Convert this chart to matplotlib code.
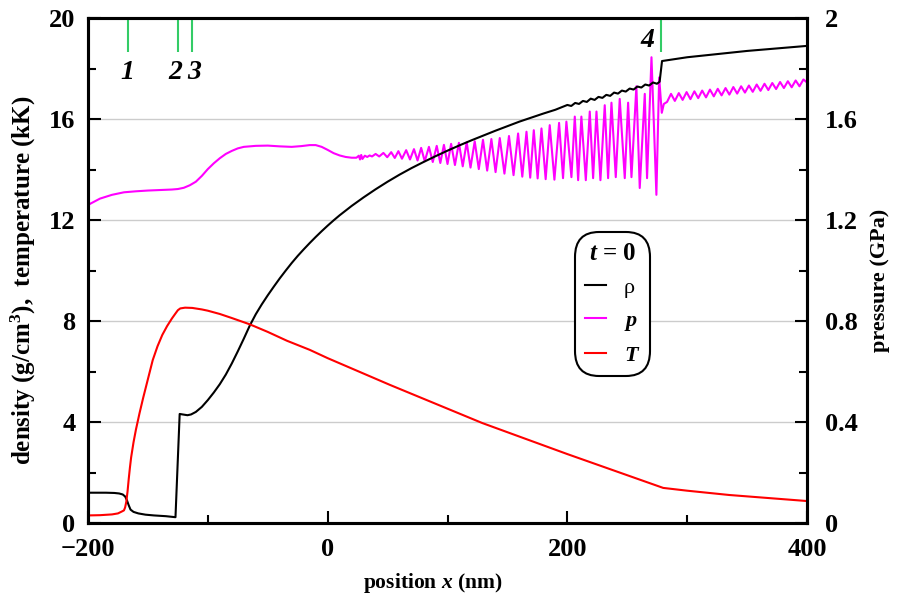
import numpy as np
import matplotlib.pyplot as plt

plt.rcParams['font.family'] = ['Liberation Serif', 'DejaVu Serif']
plt.rcParams['font.weight'] = 'bold'
plt.rcParams['axes.labelweight'] = 'bold'
plt.rcParams['mathtext.fontset'] = 'custom'
plt.rcParams['mathtext.rm'] = 'Liberation Serif:bold'
plt.rcParams['mathtext.it'] = 'Liberation Serif:italic:bold'
plt.rcParams['mathtext.bf'] = 'Liberation Serif:bold'

# density rho (g/cm3)
rho_x = [-200, -185, -178, -174, -171, -169, -167.5, -166, -164.5, -162, -158, -152,
         -145, -135, -127, -123.5, -121, -117, -114, -110, -105, -100, -95, -90, -85,
         -80, -75, -70, -65, -60, -55, -50, -45, -40, -35, -30, -25, -20, -15, -10, -5,
         0, 5, 10, 20, 30, 40, 50, 60, 70, 80, 90, 100, 110, 120, 130, 140, 150, 160,
         170, 180, 190,
         200, 203.25, 206.5, 209.75, 213, 216.25, 219.5, 222.75, 226, 229.25, 232.5,
         235.75, 239, 242.25, 245.5, 248.75, 252, 255.25, 258.5, 261.75, 265, 268.25,
         271.5, 274.75, 277, 279, 300, 350, 400]
rho = [1.20, 1.20, 1.19, 1.17, 1.13, 1.05, 0.90, 0.70, 0.53, 0.44, 0.38, 0.33,
       0.30, 0.27, 0.23, 4.32, 4.30, 4.27, 4.30, 4.40, 4.60, 4.87, 5.17, 5.50, 5.88,
       6.32, 6.80, 7.30, 7.82, 8.27, 8.66, 9.02, 9.36, 9.69, 10.0, 10.3, 10.58, 10.84,
       11.09, 11.33, 11.56, 11.78, 11.99, 12.19, 12.56, 12.90, 13.22, 13.52, 13.80,
       14.06, 14.30, 14.53, 14.75, 14.96, 15.16, 15.35, 15.54, 15.72, 15.90, 16.06,
       16.22, 16.37,
       16.56, 16.52, 16.64, 16.60, 16.72, 16.68, 16.81, 16.76, 16.88, 16.84, 16.96,
       16.92, 17.05, 17.01, 17.13, 17.09, 17.21, 17.17, 17.29, 17.25, 17.37, 17.33,
       17.45, 17.40, 17.48, 18.30, 18.45, 18.70, 18.90]

# temperature T (kK)
T_x = [-200, -190, -180, -175, -172, -170, -169, -168, -167, -166, -165, -164, -162,
       -160, -157, -154, -150, -146, -142, -138, -134, -130, -127, -125, -123, -119,
       -113, -105, -100, -90, -80, -65, -50, -34, -15, 0, 52, 129, 200, 280, 300, 335,
       400]
T = [0.30, 0.31, 0.34, 0.38, 0.45, 0.50, 0.62, 0.85, 1.25, 1.75, 2.20, 2.60, 3.20,
     3.70, 4.35, 4.95, 5.70, 6.45, 7.00, 7.45, 7.80, 8.10, 8.30, 8.43, 8.50, 8.53,
     8.52, 8.46, 8.41, 8.28, 8.12, 7.87, 7.57, 7.22, 6.86, 6.53, 5.47, 3.96, 2.73, 1.39,
     1.28, 1.11, 0.87]

# pressure p (GPa): smooth part, oscillation peaks / troughs, part behind the front
p_smooth_x = [-200, -190, -180, -170, -160, -150, -140, -130, -125, -120, -115, -110,
              -105, -100, -95, -90, -85, -80, -75, -70, -60, -50, -40, -30, -22, -15,
              -10, -5, 0, 5, 10, 15, 20, 24, 26, 27, 28, 29, 31, 33, 35]
p_smooth = [1.26, 1.285, 1.30, 1.31, 1.314, 1.317, 1.319, 1.321, 1.323, 1.328, 1.338,
            1.352, 1.375, 1.402, 1.425, 1.445, 1.462, 1.474, 1.484, 1.49, 1.494, 1.495,
            1.492, 1.49, 1.493, 1.497, 1.497, 1.49, 1.478, 1.465, 1.456, 1.45, 1.447,
            1.447, 1.455, 1.44, 1.458, 1.442, 1.455, 1.450, 1.456]
p_peak_x = [40, 46.5, 53, 59, 65.5, 72, 78, 84.5, 91, 97, 103, 109.5, 116, 122.7, 129.6,
            136.6, 143.6, 151.3, 158.9, 165.9, 172, 178.4, 185.3, 193.1, 199.2, 206.2,
            211.7, 218.7, 224.3, 231.2, 236.8, 243.7, 250.7, 257.6, 264.6, 270.2, 276.6]
p_peak = [1.462, 1.466, 1.469, 1.473, 1.477, 1.481, 1.486, 1.490, 1.494, 1.498, 1.502,
          1.506, 1.508, 1.512, 1.518, 1.521, 1.525, 1.533, 1.543, 1.550, 1.556, 1.563,
          1.576, 1.585, 1.59, 1.61, 1.61, 1.63, 1.63, 1.655, 1.665, 1.68, 1.665, 1.73,
          1.70, 1.845, 1.765]
p_trough_x = [37, 43, 49.7, 56, 62, 68.7, 75, 81, 87.7, 94, 100, 106.2, 112.7, 119.2,
              126.1, 133.1, 140.1, 147.5, 155.1, 162.4, 169, 175.2, 181.9, 189.2, 196.4,
              203.4, 209, 215.4, 221.5, 227.6, 234, 240.4, 247.9, 253.5, 260.4, 266.5,
              274.3]
p_trough = [1.452, 1.452, 1.449, 1.446, 1.443, 1.440, 1.436, 1.433, 1.430, 1.426, 1.422,
            1.418, 1.413, 1.408, 1.402, 1.396, 1.390, 1.384, 1.378, 1.372, 1.368, 1.365,
            1.362, 1.36, 1.366, 1.37, 1.358, 1.358, 1.366, 1.358, 1.366, 1.37, 1.366,
            1.37, 1.327, 1.366, 1.30]
p_tail_x = [278.8, 280.5, 283.2, 286.5, 289.7, 293, 296.2, 299.5, 302.7, 306, 309.2,
            312.5, 315.7, 319, 322.2, 325.5, 328.7, 332, 335.2, 338.5, 341.7, 345, 348.2,
            351.5, 354.7, 358, 361.2, 364.5, 367.7, 371, 374.2, 377.5, 380.7, 384, 387.2,
            390.5, 393.7, 397, 400]
p_tail = [1.625, 1.66, 1.668, 1.700, 1.672, 1.703, 1.676, 1.707, 1.679, 1.710, 1.683,
          1.713, 1.686, 1.717, 1.690, 1.720, 1.694, 1.723, 1.697, 1.727, 1.701, 1.730,
          1.705, 1.733, 1.708, 1.737, 1.712, 1.740, 1.715, 1.743, 1.719, 1.747, 1.723,
          1.750, 1.726, 1.753, 1.730, 1.757, 1.745]

# markers 1..4 at the top
mark_x = [-167, -125, -113, 278]
mark_lab = ['1', '2', '3', '4']

px = np.concatenate([p_smooth_x, p_peak_x, p_trough_x, p_tail_x])
pv = np.concatenate([p_smooth, p_peak, p_trough, p_tail])
order = np.argsort(px)
px, pv = px[order], pv[order]

fig = plt.figure(figsize=(8.97, 6.04), dpi=100)
ax = fig.add_axes([0.0981, 0.1341, 0.8016, 0.8359])
ax2 = ax.twinx()
ax.set_zorder(ax2.get_zorder() + 1)
ax.patch.set_visible(False)
ax2.patch.set_visible(True)

lw = 1.5
lp, = ax2.plot(px, pv, color='#ff00ff', lw=lw)
lr, = ax.plot(rho_x, rho, color='black', lw=lw)
lt, = ax.plot(T_x, T, color='#ff0000', lw=lw)

ax.vlines(mark_x, 18.65, 20, color='#33cc66', lw=1.5)
for xm, lab, dx in zip(mark_x[:3], mark_lab[:3], [0, -2, 2]):
    ax.text(xm + dx, 17.85, lab, ha='center', va='center', fontsize=20,
            fontstyle='italic', fontweight='bold')
ax.text(mark_x[3] - 11, 19.1, mark_lab[3], ha='center', va='center', fontsize=20,
        fontstyle='italic', fontweight='bold')

ax.set_xlim(-200, 400)
ax.set_ylim(0, 20)
ax2.set_ylim(0, 2)

ax.set_xticks([-200, 0, 200, 400])
ax.set_xticks([-100, 100, 300], minor=True)
ax.set_yticks([0, 4, 8, 12, 16, 20])
ax.set_yticks([2, 6, 10, 14, 18], minor=True)
ax2.set_yticks([0, 0.4, 0.8, 1.2, 1.6, 2.0], ['0', '0.4', '0.8', '1.2', '1.6', '2'])
ax2.set_yticks([0.2, 0.6, 1.0, 1.4, 1.8], minor=True)

for a in (ax, ax2):
    a.tick_params(which='major', direction='in', length=9, width=1.5, labelsize=19)
    a.tick_params(which='minor', direction='in', length=6, width=1.5)
    for s in a.spines.values():
        s.set_linewidth(2.2)
ax.tick_params(axis='y', which='both', right=False, pad=9)
ax.tick_params(axis='x', which='both', top=False, pad=11)
ax2.tick_params(axis='y', which='both', left=False, pad=13)

ax2.grid(True, color='#cccccc', lw=1)
ax2.xaxis.grid(True, color='#cccccc', lw=1)

ax.set_xlabel('position $x$ (nm)', fontsize=15.5)
ax.xaxis.set_label_coords(0.48, -0.095)
ax.set_ylabel('density (g/cm$^3$),  temperature (kK)', fontsize=18)
ax.yaxis.set_label_coords(-0.07, 0.48)
ax2.set_ylabel('pressure (GPa)', fontsize=16)
ax2.yaxis.set_label_coords(1.088, 0.48)

leg = ax.legend([lr, lp, lt], ['ρ', '$p$', '$T$'], title='$t$ = 0',
                loc='upper left', bbox_to_anchor=(0.677, 0.576), borderaxespad=0,
                fontsize=16, title_fontsize=18, handlelength=0.95, handletextpad=0.8,
                labelspacing=0.55, borderpad=0.45, fancybox=True, framealpha=1)
leg.get_frame().set_edgecolor('black')
leg.get_frame().set_linewidth(1.5)
leg.get_frame().set_boxstyle('round', pad=0.0, rounding_size=1.1)
leg.get_texts()[0].set_fontweight('normal')

fig.savefig('out.png', dpi=100)
